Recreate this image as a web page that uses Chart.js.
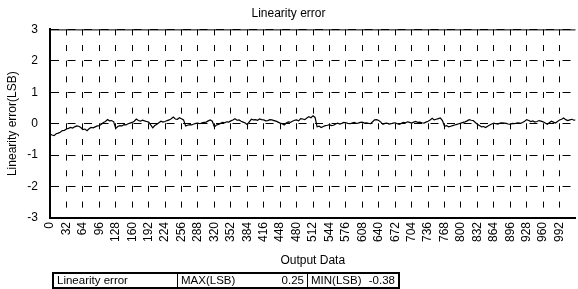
<!DOCTYPE html>
<html>
<head>
<meta charset="utf-8">
<script src="https://cdn.jsdelivr.net/npm/chart.js@4.4.0/dist/chart.umd.min.js"></script>
<style>
  body { margin: 0; background: #fff; }
  #wrap { position: relative; width: 578px; height: 289px; }
  #summary {
    position: absolute; left: 52px; top: 272px;
    border-collapse: collapse; border: 2px solid #000;
    font: 11.5px "Liberation Sans", Arial, sans-serif; color: #000;
  }
  #summary td { border: 1px solid #000; padding: 0 3px; height: 13px; line-height: 13px; white-space: nowrap; }
</style>
</head>
<body>
<div id="wrap">
  <canvas id="myChart" width="578" height="289"></canvas>
  <table id="summary"></table>
</div>
<script>
//Chart data
var codes = [0, 4, 8, 12, 16, 20, 24, 28, 32, 36, 40, 44, 48, 52, 56, 60,
  64, 68, 72, 76, 80, 84, 88, 92, 96, 100, 104, 108, 112, 116, 120, 124,
  128, 132, 136, 140, 144, 148, 152, 156, 160, 164, 168, 172, 176, 180, 184, 188,
  192, 196, 200, 204, 208, 212, 216, 220, 224, 228, 232, 236, 240, 244, 248, 252,
  256, 260, 264, 268, 272, 276, 280, 284, 288, 292, 296, 300, 304, 308, 312, 316,
  320, 324, 328, 332, 336, 340, 344, 348, 352, 356, 360, 364, 368, 372, 376, 380,
  384, 388, 392, 396, 400, 404, 408, 412, 416, 420, 424, 428, 432, 436, 440, 444,
  448, 452, 456, 460, 464, 468, 472, 476, 480, 484, 488, 492, 496, 500, 504, 508,
  512, 516, 520, 524, 528, 532, 536, 540, 544, 548, 552, 556, 560, 564, 568, 572,
  576, 580, 584, 588, 592, 596, 600, 604, 608, 612, 616, 620, 624, 628, 632, 636,
  640, 644, 648, 652, 656, 660, 664, 668, 672, 676, 680, 684, 688, 692, 696, 700,
  704, 708, 712, 716, 720, 724, 728, 732, 736, 740, 744, 748, 752, 756, 760, 764,
  768, 772, 776, 780, 784, 788, 792, 796, 800, 804, 808, 812, 816, 820, 824, 828,
  832, 836, 840, 844, 848, 852, 856, 860, 864, 868, 872, 876, 880, 884, 888, 892,
  896, 900, 904, 908, 912, 916, 920, 924, 928, 932, 936, 940, 944, 948, 952, 956,
  960, 964, 968, 972, 976, 980, 984, 988, 992, 996, 1000, 1004, 1008, 1012, 1016, 1020,
  1023];
var errors = [-0.33, -0.36, -0.38, -0.32, -0.30, -0.27, -0.22, -0.21, -0.17, -0.15, -0.12, -0.14, -0.10, -0.07, -0.08, -0.12,
  -0.19, -0.17, -0.22, -0.16, -0.12, -0.13, -0.10, -0.07, -0.06, -0.02, 0.04, 0.07, 0.13, 0.09, 0.10, 0.06,
  -0.15, -0.09, -0.06, -0.07, -0.03, -0.04, 0.00, 0.02, 0.04, 0.08, 0.15, 0.10, 0.08, 0.11, 0.09, 0.07,
  0.05, -0.04, -0.13, -0.06, -0.02, 0.03, 0.08, 0.05, 0.07, 0.10, 0.12, 0.16, 0.21, 0.15, 0.14, 0.19,
  0.16, 0.12, -0.07, -0.05, -0.03, -0.04, -0.01, 0.01, 0.02, 0.00, 0.03, 0.04, 0.05, 0.09, 0.12, 0.08,
  -0.10, -0.04, -0.02, 0.01, 0.04, 0.03, 0.06, 0.05, 0.09, 0.12, 0.16, 0.11, 0.12, 0.08, 0.05, 0.02,
  -0.03, 0.06, 0.14, 0.12, 0.13, 0.11, 0.15, 0.13, 0.12, 0.09, 0.10, 0.13, 0.12, 0.10, 0.08, 0.05,
  0.02, 0.00, -0.04, 0.02, 0.06, 0.04, 0.08, 0.11, 0.12, 0.09, 0.16, 0.15, 0.13, 0.18, 0.22, 0.19,
  0.25, 0.20, -0.10, -0.08, -0.12, -0.09, -0.06, -0.05, -0.03, -0.06, -0.05, -0.01, 0.02, -0.01, 0.01, 0.04,
  0.03, 0.01, 0.00, 0.02, 0.04, 0.01, 0.02, 0.04, 0.05, 0.02, 0.03, 0.01, 0.00, 0.06, 0.12, 0.13,
  0.10, 0.05, -0.02, 0.01, 0.02, -0.01, 0.00, 0.02, 0.03, 0.00, -0.02, 0.01, 0.04, 0.03, 0.06, 0.04,
  0.02, 0.05, 0.07, 0.04, 0.05, 0.03, 0.02, 0.05, 0.08, 0.12, 0.17, 0.12, 0.14, 0.16, 0.18, 0.10,
  -0.08, -0.06, -0.10, -0.08, -0.06, -0.04, -0.02, 0.00, 0.02, 0.04, 0.06, 0.09, 0.13, 0.11, 0.10, 0.04,
  -0.02, -0.06, -0.10, -0.09, -0.12, -0.08, -0.04, -0.01, 0.02, 0.00, -0.01, 0.02, 0.03, 0.02, 0.01, -0.01,
  -0.02, 0.01, 0.00, 0.02, 0.03, 0.01, 0.04, 0.08, 0.13, 0.10, 0.07, 0.09, 0.05, 0.07, 0.10, 0.08,
  0.06, 0.02, -0.02, 0.03, 0.08, 0.05, 0.02, 0.07, 0.12, 0.14, 0.18, 0.13, 0.10, 0.12, 0.14, 0.11,
  0.12];
var xTicks = [0, 32, 64, 96, 128, 160, 192, 224, 256, 288, 320, 352, 384, 416, 448, 480,
  512, 544, 576, 608, 640, 672, 704, 736, 768, 800, 832, 864, 896, 928, 960, 992];
var summaryLabels = ["Linearity error", "MAX(LSB)", "MIN(LSB)"];
var summaryValues = ["0.25", "-0.38"];

// summary table under the chart
var row = document.getElementById("summary").insertRow();
var c0 = row.insertCell(); c0.textContent = summaryLabels[0]; c0.style.width = "117px";
var c1 = row.insertCell(); c1.style.width = "123px";
c1.innerHTML = summaryLabels[1] + '<span style="float:right">' + summaryValues[0] + '</span>';
var c2 = row.insertCell(); c2.style.width = "84px";
c2.innerHTML = summaryLabels[2] + '<span style="float:right">' + summaryValues[1] + '</span>';

var font = { family: "'Liberation Sans', Arial, sans-serif", size: 12, weight: "normal" };
Chart.defaults.color = "#000";

var ctx = document.getElementById("myChart").getContext("2d");
var myChart = new Chart(ctx, {
  type: "line",
  data: {
    datasets: [
      {
        label: "Linearity error",
        data: codes.map((c, i) => ({ x: c, y: errors[i] })),
        borderColor: "#000",
        borderWidth: 1.2,
        pointRadius: 0,
        tension: 0,
        fill: false,
      },
    ],
  },
  options: {
    responsive: false,
    animation: false,
    layout: { padding: { left: 0, right: 1, top: 0, bottom: 18 } },
    plugins: {
      legend: { display: false },
      tooltip: { enabled: false },
      title: {
        display: true,
        text: "Linearity error",
        font: font,
        color: "#000",
        padding: { top: 6, bottom: 9 },
      },
    },
    scales: {
      x: {
        type: "linear",
        min: 0,
        max: 1023,
        afterBuildTicks: (s) => { s.ticks = xTicks.map((v) => ({ value: v })); },
        afterFit: (s) => { s.height = 53; },
        ticks: { font: font, maxRotation: 90, minRotation: 90, padding: 4, autoSkip: false },
        grid: { color: "#000", drawTicks: false, lineWidth: 1 },
        border: { color: "#000", width: 2, dash: [6, 9.65] },
        title: { display: true, text: "Output Data", font: font, padding: 3 },
      },
      y: {
        min: -3,
        max: 3,
        afterFit: (s) => { s.width = 50; },
        ticks: { stepSize: 1, font: font, padding: 12 },
        grid: { color: "#000", drawTicks: false, lineWidth: 1 },
        border: { color: "#000", width: 2, dash: [8, 8.5] },
        title: { display: true, text: "Linearity error(LSB)", font: font, padding: { top: 5, bottom: 4 } },
      },
    },
  },
  plugins: [{
    id: "topLine",
    afterDraw: (chart) => {
      var a = chart.chartArea, c = chart.ctx;
      c.save();
      c.strokeStyle = "#000";
      c.lineWidth = 1;
      c.beginPath();
      c.moveTo(a.left, a.top + 0.5);
      c.lineTo(a.right, a.top + 0.5);
      c.stroke();
      c.restore();
    },
  }],
});
</script>
</body>
</html>
